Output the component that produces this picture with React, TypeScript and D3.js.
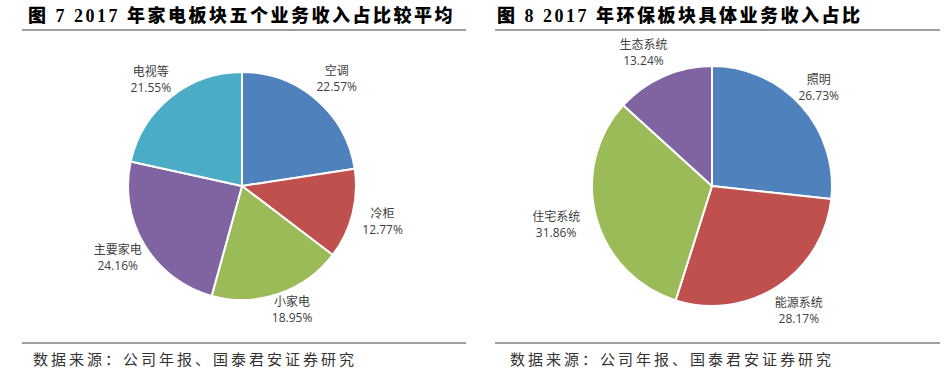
import React from "react";
import * as d3 from "d3";

const leftCategories = ["空调", "冷柜", "小家电", "主要家电", "电视等"];
const leftValues = [22.57, 12.77, 18.95, 24.16, 21.55];
const leftColors = ["#4F81BD", "#C0504D", "#9BBB59", "#8064A2", "#4BACC6"];

const rightCategories = ["照明", "能源系统", "住宅系统", "生态系统"];
const rightValues = [26.73, 28.17, 31.86, 13.24];
const rightColors = ["#4F81BD", "#C0504D", "#9BBB59", "#8064A2"];

const leftTitle = "图 7 2017 年家电板块五个业务收入占比较平均";
const rightTitle = "图 8 2017 年环保板块具体业务收入占比";
const source = "数据来源：公司年报、国泰君安证券研究";

type PieProps = {
  cx: number;
  cy: number;
  r: number;
  labelR: number;
  cats: string[];
  vals: number[];
  colors: string[];
  offsets?: [number, number][];
};

function Pie({ cx, cy, r, labelR, cats, vals, colors, offsets }: PieProps) {
  const pie = d3.pie<number>().sort(null).value((d) => d);
  const arcs = pie(vals);
  const arc = d3.arc<d3.PieArcDatum<number>>().innerRadius(0).outerRadius(r);
  return (
    <g transform={`translate(${cx},${cy})`}>
      {arcs.map((a, i) => (
        <path key={i} d={arc(a) || ""} fill={colors[i]} stroke="#fff" strokeWidth={2} strokeLinejoin="round" />
      ))}
      {arcs.map((a, i) => {
        const mid = (a.startAngle + a.endAngle) / 2;
        const off = offsets ? offsets[i] : [0, 0];
        const x = Math.sin(mid) * labelR + off[0];
        const y = -Math.cos(mid) * labelR + off[1];
        return (
          <text key={"t" + i} x={x} y={y} textAnchor="middle" fontSize={12} fill="#404040"
            fontFamily="'Open Sans', 'Noto Sans CJK SC', sans-serif">
            <tspan x={x} dy={-2}>{cats[i]}</tspan>
            <tspan x={x} dy={16}>{vals[i].toFixed(2)}%</tspan>
          </text>
        );
      })}
    </g>
  );
}

export default function App() {
  const titleFont = "'Liberation Serif', 'Noto Sans CJK SC', serif";
  const srcFont = "'Noto Sans CJK SC', sans-serif";
  return (
    <svg width={944} height={371} style={{ position: "absolute", left: 0, top: 0, background: "#fff" }}>
      <text x={28} y={22} fontSize={18} fontWeight={900} fontFamily={titleFont} letterSpacing={2.5} fill="#000">{leftTitle}</text>
      <text x={497} y={22} fontSize={18} fontWeight={900} fontFamily={titleFont} letterSpacing={2.5} fill="#000">{rightTitle}</text>
      <line x1={22} x2={466} y1={30} y2={30} stroke="#7f7f7f" strokeWidth={1.5} />
      <line x1={495} x2={940} y1={30} y2={30} stroke="#7f7f7f" strokeWidth={1.5} />

      <Pie cx={242} cy={186} r={114} labelR={144} cats={leftCategories} vals={leftValues} colors={leftColors}
        offsets={[[1, 0], [1, -1], [4, -14], [-1, -4], [-1, 4]]} />
      <Pie cx={712} cy={186} r={120} labelR={150} cats={rightCategories} vals={rightValues} colors={rightColors}
        offsets={[[-5, 0], [5, -3], [-11, -2], [-8, 2]]} />

      <line x1={22} x2={466} y1={343} y2={343} stroke="#7f7f7f" strokeWidth={1.5} />
      <line x1={495} x2={940} y1={343} y2={343} stroke="#7f7f7f" strokeWidth={1.5} />
      <text x={33} y={365} fontSize={15} fontFamily={srcFont} letterSpacing={3} fill="#333">{source}</text>
      <text x={510} y={365} fontSize={15} fontFamily={srcFont} letterSpacing={3} fill="#333">{source}</text>
    </svg>
  );
}
